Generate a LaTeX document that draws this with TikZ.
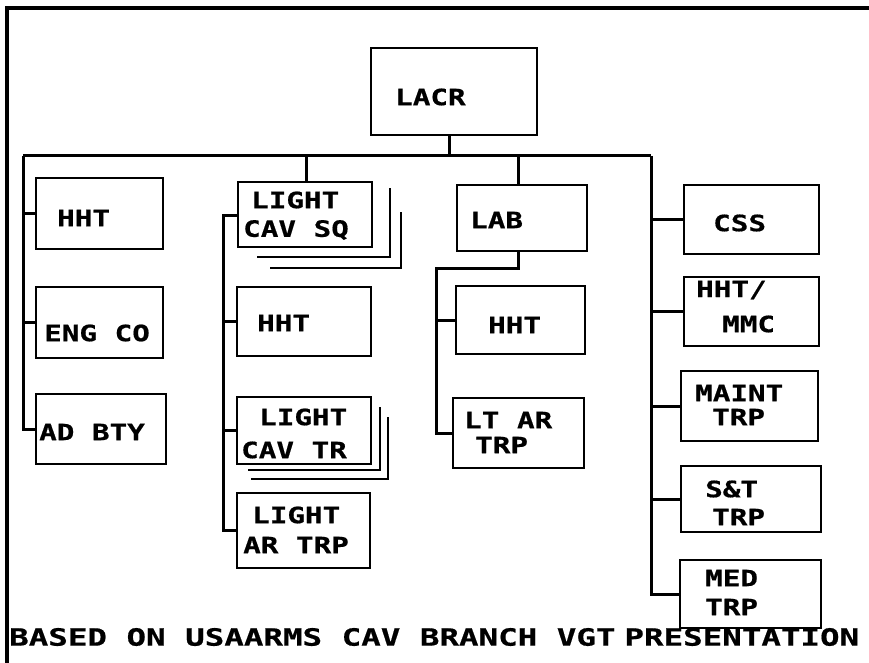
\documentclass[tikz,border=0pt]{standalone}
\usepackage{fontspec}
\newfontfamily\pixfont[FakeStretch=1.3,FakeBold=0.6]{DejaVu Sans Mono}
\newfontfamily\footfont[FakeStretch=1.365,FakeBold=0.6]{DejaVu Sans Mono}
\begin{document}
\begin{tikzpicture}[x=1pt,y=-1pt,
  box/.style={draw,line width=2.6pt,rectangle,inner sep=0pt,outer sep=0pt},
  conn/.style={line width=3pt},
  shadow/.style={line width=2.8pt},
  lbl/.style={anchor=west,inner sep=0pt,font=\pixfont\bfseries\fontsize{22.5}{24}\selectfont},
  foot/.style={anchor=west,inner sep=0pt,font=\footfont\bfseries\fontsize{23.8}{25}\selectfont}]
\useasboundingbox (0,0) rectangle (869,663);
% frame
\draw[line width=3.4pt] (5,8) -- (869,8);
\draw[line width=3.4pt] (7,8) -- (7,663);
% boxes
\node[box,minimum width=166,minimum height=87] (lacr) at (454,91.5) {};
\node[box,minimum width=127,minimum height=71] (lhht) at (99.5,213.5) {};
\node[box,minimum width=127,minimum height=71] (eng) at (99.5,322.5) {};
\node[box,minimum width=130,minimum height=70] (ad) at (101,429) {};
\node[box,minimum width=134,minimum height=65] (sq) at (305,214.5) {};
\node[box,minimum width=134,minimum height=69] (mhht) at (304,321.5) {};
\node[box,minimum width=134,minimum height=67] (tr) at (304,430.5) {};
\node[box,minimum width=133,minimum height=75] (artrp) at (303.5,530.5) {};
\node[box,minimum width=130,minimum height=66] (lab) at (522,218) {};
\node[box,minimum width=129,minimum height=68] (labhht) at (520.5,320) {};
\node[box,minimum width=131,minimum height=70] (ltar) at (518.5,433) {};
\node[box,minimum width=135,minimum height=69] (css) at (751.5,219.5) {};
\node[box,minimum width=135,minimum height=69] (mmc) at (751.5,311.5) {};
\node[box,minimum width=137,minimum height=70] (maint) at (749.5,406) {};
\node[box,minimum width=140,minimum height=66] (st) at (751,499) {};
\node[box,minimum width=141,minimum height=68] (med) at (750.5,594) {};
% shadows (stacked units)
\draw[shadow] (257,257) -- (390,257) -- (390,188);
\draw[shadow] (270,268) -- (401,268) -- (401,212);
\draw[shadow] (248,470) -- (380,470) -- (380,407);
\draw[shadow] (251,479) -- (388,479) -- (388,417);
% coordinates for connector routing
\coordinate (busL) at (23,156);
\coordinate (busR) at (651,156);
\coordinate (mid) at (223,215);
\coordinate (labturn) at (436,268);
% connectors
\draw[conn] (lacr.south -| 449,0) -- (449,156);
\draw[conn] (busL) -- (busR);
\draw[conn] (busL) |- (ad.west);
\draw[conn] (lhht.west) -- (lhht.west -| busL);
\draw[conn] (eng.west) -- (eng.west -| busL);
\draw[conn] (306,156) -- (sq.north -| 306,0);
\draw[conn] (sq.west |- mid) -- (mid) |- (artrp.west);
\draw[conn] (mhht.west) -- (mhht.west -| mid);
\draw[conn] (tr.west) -- (tr.west -| mid);
\draw[conn] (518,156) -- (lab.north -| 518,0);
\draw[conn] (lab.south -| 518,0) |- (labturn) |- (ltar.west);
\draw[conn] (labhht.west) -- (labhht.west -| labturn);
\draw[conn] (busR) |- (med.west);
\draw[conn] (css.west) -- (css.west -| busR);
\draw[conn] (mmc.west) -- (mmc.west -| busR);
\draw[conn] (maint.west) -- (maint.west -| busR);
\draw[conn] (st.west) -- (st.west -| busR);
% labels
\node[lbl] (tlacr) at (395,97) {LACR};
\node[lbl] (tlhht) at (57,218) {HHT};
\node[lbl] (teng) at (44,333) {ENG CO};
\node[lbl] (tad) at (39,432) {AD BTY};
\node[lbl] (tsq1) at (251,200) {LIGHT};
\node[lbl] (tsq2) at (243,230) {CAV SQ};
\node[lbl] (tmhht) at (257,323) {HHT};
\node[lbl] (ttr1) at (259,417) {LIGHT};
\node[lbl] (ttr2) at (241,450) {CAV TR};
\node[lbl] (tar1) at (252,515) {LIGHT};
\node[lbl] (tar2) at (243,545) {AR TRP};
\node[lbl] (tlab) at (470,220) {LAB};
\node[lbl] (tlabhht) at (488,325) {HHT};
\node[lbl] (tltar1) at (464,420) {LT AR};
\node[lbl] (tltar2) at (475,445) {TRP};
\node[lbl] (tcss) at (713,223) {CSS};
\node[lbl] (tmmc1) at (696,290) {HHT/};
\node[lbl] (tmmc2) at (722,324) {MMC};
\node[lbl] (tmaint1) at (695,393) {MAINT};
\node[lbl] (tmaint2) at (712,417) {TRP};
\node[lbl] (tst1) at (705,489) {S\&T};
\node[lbl] (tst2) at (712,517) {TRP};
\node[lbl] (tmed1) at (705,578) {MED};
\node[lbl] (tmed2) at (705,607) {TRP};
\node[foot] (tfoot) at (9,637) {BASED ON USAARMS CAV BRANCH VGT\hspace{9pt}PRESENTATION};
\end{tikzpicture}
\end{document}
